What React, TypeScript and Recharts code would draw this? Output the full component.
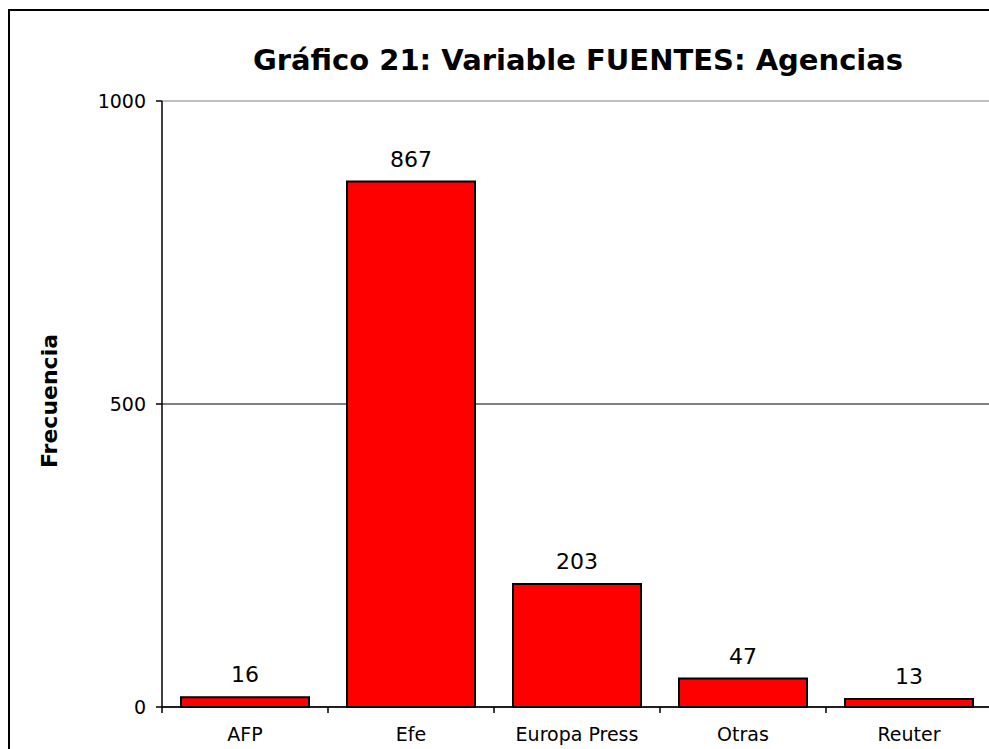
import React from 'react';
import { BarChart, Bar, XAxis, YAxis, CartesianGrid, ReferenceLine, LabelList } from 'recharts';

const agencias = ['AFP', 'Efe', 'Europa Press', 'Otras', 'Reuter'];
const frecuencias = [16, 867, 203, 47, 13];
const yTicks = [0, 500, 1000];

const font = "Tahoma, 'DejaVu Sans', sans-serif";

const data = agencias.map((name, i) => ({ name, value: frecuencias[i] }));

const CategoryTick = (props: any) => {
  const { x, y, payload } = props;
  const half = payload && payload.offset ? payload.offset : 83;
  return (
    <g>
      <line x1={x - half} y1={y - 8} x2={x - half} y2={y - 2} stroke="#000" strokeWidth={1.5} />
      <text x={x} y={y + 26} textAnchor="middle" fontFamily={font} fontSize={19} fill="#000">
        {payload.value}
      </text>
    </g>
  );
};

const App = () => {
  return (
    <div style={{ position: 'fixed', left: 0, top: 0, width: 989, height: 749, overflow: 'hidden', background: '#fff' }}>
      <div
        style={{
          position: 'absolute',
          left: 8,
          top: 9,
          width: 1100,
          height: 900,
          borderLeft: '2px solid #000',
          borderTop: '2px solid #000',
        }}
      />
      <div
        style={{
          position: 'absolute',
          left: 578,
          top: 60,
          transform: 'translate(-50%, -50%)',
          whiteSpace: 'nowrap',
          fontFamily: font,
          fontWeight: 'bold',
          fontSize: 29,
        }}
      >
        Gráfico 21: Variable FUENTES: Agencias
      </div>
      <div
        style={{
          position: 'absolute',
          left: 49,
          top: 401,
          transform: 'translate(-50%, -50%) rotate(-90deg)',
          whiteSpace: 'nowrap',
          fontFamily: font,
          fontWeight: 'bold',
          fontSize: 22,
        }}
      >
        Frecuencia
      </div>
      <div style={{ position: 'absolute', left: 0, top: 0 }}>
        <BarChart
          width={1000}
          height={749}
          data={data}
          margin={{ top: 101, right: 8, bottom: 12, left: 102 }}
          barCategoryGap={19}
        >
          <CartesianGrid vertical={false} stroke="#000" strokeWidth={1} />
          <ReferenceLine y={1000} stroke="#c0c0c0" strokeWidth={2} />
          <XAxis
            dataKey="name"
            height={30}
            axisLine={{ stroke: '#000', strokeWidth: 1.5 }}
            tickLine={false}
            tick={<CategoryTick />}
            interval={0}
          />
          <YAxis
            width={60}
            domain={[0, 1000]}
            ticks={yTicks}
            interval={0}
            axisLine={{ stroke: '#000', strokeWidth: 1.5 }}
            tickLine={{ stroke: '#000', strokeWidth: 1.5 }}
            tickSize={6}
            tickMargin={10}
            tick={{ fontFamily: font, fontSize: 19, fill: '#000' }}
          />
          <Bar dataKey="value" fill="#ff0000" stroke="#000" strokeWidth={2} isAnimationActive={false}>
            <LabelList
              dataKey="value"
              position="top"
              offset={15}
              style={{ fontFamily: font, fontSize: 22, fill: '#000' }}
            />
          </Bar>
        </BarChart>
      </div>
    </div>
  );
};

export default App;
